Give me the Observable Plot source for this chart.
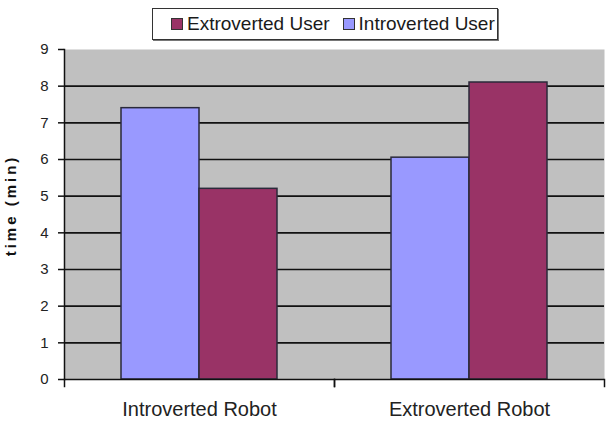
<!DOCTYPE html>
<html>
<head>
<meta charset="utf-8">
<script src="https://cdn.jsdelivr.net/npm/d3@7"></script>
<script src="https://cdn.jsdelivr.net/npm/@observablehq/plot@0.6"></script>
<style>
  html, body { margin: 0; padding: 0; background: #fff; }
  #wrap { position: relative; width: 611px; height: 428px; font-family: "Liberation Sans", Arial, sans-serif; }
  #legend {
    position: absolute; left: 152px; top: 8px; width: 346px; height: 32px;
    border: 1px solid #333; box-shadow: 1px 1px 0 #777; background: #fff;
    display: flex; align-items: center; box-sizing: border-box; padding-left: 18px;
    font-size: 19px; color: #1a1a1a; white-space: nowrap;
  }
  .item { display: flex; align-items: center; margin-right: 13px; }
  .sw { width: 10px; height: 10px; border: 1px solid #333; margin-right: 4px; }
  #chart { position: absolute; left: 0; top: 0; }
  svg g[aria-label="text"] text { letter-spacing: 3px; }
</style>
</head>
<body>
<div id="wrap">
  <div id="chart"></div>
  <div id="legend"></div>
</div>
<script>
const robots = ["Introverted Robot", "Extroverted Robot"];
const users = ["Introverted User", "Extroverted User"];
const introvertedUser = [7.4, 6.05];
const extrovertedUser = [5.2, 8.1];
const yTicks = [0, 1, 2, 3, 4, 5, 6, 7, 8, 9];
const gridValues = [1, 2, 3, 4, 5, 6, 7, 8];
const colors = ["#9999ff", "#993366"];
const legendOrder = ["Extroverted User", "Introverted User"];
const yLabel = "time (min)";

const data = [];
robots.forEach((r, i) => {
  data.push({robot: r, user: users[0], time: introvertedUser[i]});
  data.push({robot: r, user: users[1], time: extrovertedUser[i]});
});

const W = 611, H = 428, mL = 63, mR = 7, mT = 49, mB = 49;
const innerH = H - mT - mB;

const chart = Plot.plot({
  width: W, height: H,
  marginLeft: mL, marginRight: mR, marginTop: mT, marginBottom: mB,
  style: {fontFamily: "'Liberation Sans', Arial, sans-serif", color: "#222", background: "transparent"},
  fx: {domain: robots, padding: 0, axis: null, label: null},
  x: {domain: users, paddingInner: 0, paddingOuter: 0.723, axis: null},
  y: {domain: [0, 9], axis: null},
  color: {domain: users, range: colors},
  marks: [
    Plot.frame({fill: "#c0c0c0", stroke: null, facet: "super"}),
    Plot.ruleY(gridValues, {stroke: "#111", strokeWidth: 1.6}),
    Plot.barY(data, {fx: "robot", x: "user", y: "time", fill: "user", stroke: "#2a2a3a", strokeWidth: 1.5}),
    Plot.ruleY([0], {stroke: "#111", strokeWidth: 1.5}),
    Plot.frame({anchor: "left", stroke: "#111", strokeWidth: 1.5, facet: "super"}),
    Plot.frame({anchor: "left", insetTop: innerH, insetBottom: -7, stroke: "#111", strokeWidth: 1.5}),
    Plot.frame({anchor: "right", insetTop: innerH, insetBottom: -7, stroke: "#111", strokeWidth: 1.5}),
    Plot.axisY({ticks: yTicks, tickFormat: d => String(d), tickSize: 6, tickPadding: 10, fontSize: 15, label: null, stroke: "#111", strokeWidth: 1.5}),
    Plot.axisFx({anchor: "bottom", tickSize: 0, tickPadding: 22, fontSize: 20, label: null}),
    Plot.text([yLabel], {fx: () => robots[0], text: d => d, frameAnchor: "left", textAnchor: "middle", rotate: -90, dx: -53, dy: -9, fontSize: 15, fontWeight: "bold", fill: "#111"})
  ]
});
document.getElementById("chart").appendChild(chart);

const legend = document.getElementById("legend");
legendOrder.forEach(u => {
  const item = document.createElement("div");
  item.className = "item";
  const sw = document.createElement("div");
  sw.className = "sw";
  sw.style.background = colors[users.indexOf(u)];
  const t = document.createElement("span");
  t.textContent = u;
  item.appendChild(sw); item.appendChild(t);
  legend.appendChild(item);
});
</script>
</body>
</html>
